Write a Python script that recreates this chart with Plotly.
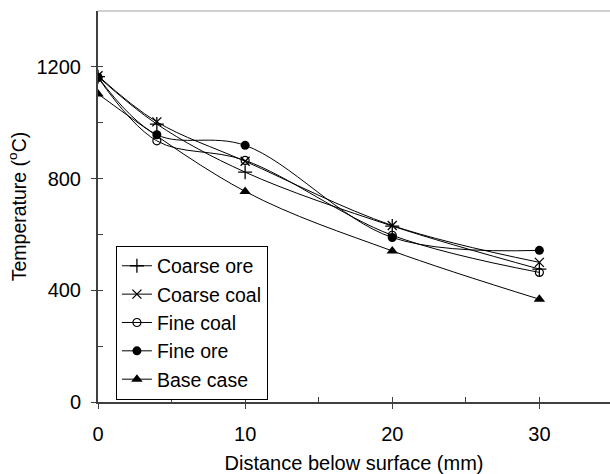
import plotly.graph_objects as go

# ---- data ----
x_dist = [0, 4, 10, 20, 30]
coarse_ore = [1165, 995, 823, 630, 476]
coarse_coal = [1168, 1003, 862, 632, 500]
fine_coal = [1162, 935, 865, 597, 464]
fine_ore = [1163, 957, 919, 589, 543]
base_x = [0, 10, 20, 30]
base_case = [1103, 754, 541, 368]

series_names = ["Coarse ore", "Coarse coal", "Fine coal", "Fine ore", "Base case"]
x_ticks = [0, 10, 20, 30]
y_ticks = [0, 400, 800, 1200]

FONT = "Liberation Sans, Arial, sans-serif"
AX = "#404040"

fig = go.Figure()

styles = [
    dict(symbol="cross-thin-open", size=10, line=dict(width=1.3, color="black")),
    dict(symbol="x-thin-open", size=9, line=dict(width=1.3, color="black")),
    dict(symbol="circle-open", size=8, line=dict(width=1.2, color="black")),
    dict(symbol="circle", size=9, line=dict(width=0)),
    dict(symbol="triangle-up", size=10, line=dict(width=0)),
]
xs = [x_dist, x_dist, x_dist, x_dist, base_x]
ys = [coarse_ore, coarse_coal, fine_coal, fine_ore, base_case]

for name, xv, yv, st in zip(series_names, xs, ys, styles):
    fig.add_trace(go.Scatter(
        x=xv, y=yv, name=name, mode="lines+markers",
        line=dict(color="black", width=1, shape="spline", smoothing=1),
        marker=dict(color="black", **st),
    ))

# helper trace for the inside tick parts
fig.add_trace(go.Scatter(x=[None], y=[None], xaxis="x2", yaxis="y2",
                         showlegend=False, hoverinfo="skip"))

fig.update_layout(
    width=610, height=474,
    margin=dict(l=98, r=0, t=11, b=72),
    plot_bgcolor="white", paper_bgcolor="white",
    font=dict(family=FONT, size=20, color="black"),
    showlegend=True,
    legend=dict(
        x=0.035, y=0.40, xanchor="left", yanchor="top",
        bordercolor="black", borderwidth=1, bgcolor="white",
        font=dict(family=FONT, size=19.5, color="black"),
        itemwidth=30,
    ),
    xaxis=dict(
        range=[0, 34.8], tickvals=x_ticks, ticks="outside", ticklen=5,
        tickcolor=AX, tickwidth=1, showline=True, linecolor=AX, linewidth=1.5,
        showgrid=False, zeroline=False, ticklabelstandoff=8,
        title=dict(text="Distance below surface (mm)", standoff=13,
                   font=dict(size=20)),
    ),
    xaxis2=dict(
        overlaying="x", anchor="y", side="bottom", range=[0, 34.8],
        tickvals=x_ticks, ticks="inside", ticklen=5, tickcolor=AX,
        showticklabels=False, showline=False, showgrid=False, zeroline=False,
        minor=dict(tickvals=[5, 15, 25], ticks="inside", ticklen=5, tickcolor=AX),
    ),
    yaxis=dict(
        range=[0, 1400], tickvals=y_ticks, ticks="outside", ticklen=5,
        tickcolor=AX, tickwidth=1, showline=True, linecolor=AX, linewidth=2,
        showgrid=False, zeroline=False, ticklabelstandoff=6,
        title=dict(text="Temperature (<sup>o</sup>C)", standoff=5,
                   font=dict(size=19.5)),
    ),
    yaxis2=dict(
        overlaying="y", anchor="x", side="left", range=[0, 1400],
        tickvals=y_ticks, ticks="inside", ticklen=5, tickcolor=AX,
        showticklabels=False, showline=False, showgrid=False, zeroline=False,
        minor=dict(tickvals=[200, 600, 1000], ticks="inside", ticklen=5, tickcolor=AX),
    ),
    shapes=[dict(type="line", xref="paper", yref="paper", x0=0, x1=1, y0=1, y1=1,
                 line=dict(color="#a0a0a0", width=1))],
)

fig.write_html("out.html")
